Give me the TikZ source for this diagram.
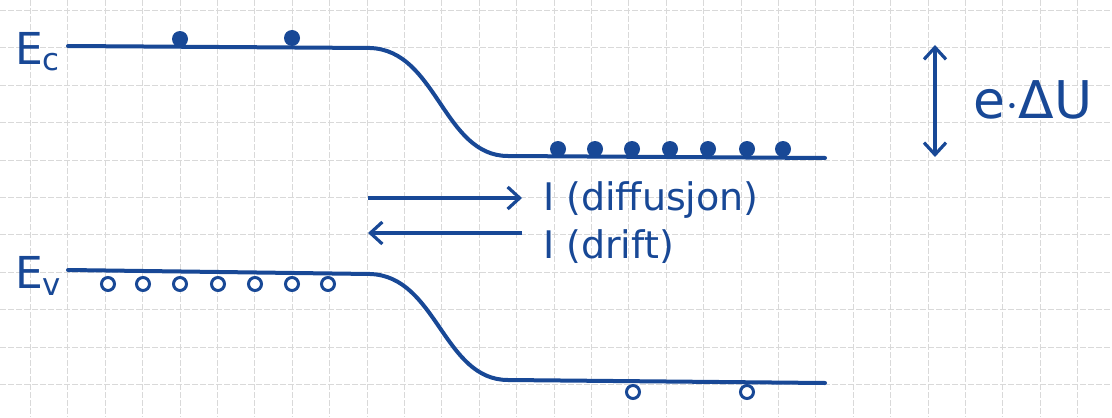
\documentclass[tikz,border=0pt]{standalone}
\usepackage{fontspec}
\setsansfont{DejaVu Sans}
\usetikzlibrary{arrows.meta}

\definecolor{ink}{RGB}{24,72,150}

\begin{document}
\begin{tikzpicture}[
  x=0.5pt,
  y=-0.5pt,
  font=\sffamily,
  >={Straight Barb[length=6pt,width=11pt,line width=1.6pt]},
  band/.style={
    draw=ink,
    line width=2pt,
    line cap=round
  },
  elec/.style={
    circle,
    fill=ink,
    inner sep=0pt,
    minimum size=8pt
  },
  hole/.style={
    circle,
    draw=ink,
    line width=1.5pt,
    fill=white,
    inner sep=0pt,
    minimum size=6.5pt
  },
  arr/.style={
    draw=ink,
    line width=1.6pt,
    ->
  },
  lbl/.style={
    text=ink,
    anchor=west,
    font=\sffamily\fontsize{19}{22}\selectfont
  },
  gridline/.style={
    gray!30,
    line width=0.5pt,
    dash pattern=on 3pt off 1pt
  }
]

\useasboundingbox (0,0) rectangle (1112,417);
\fill[white] (0,0) rectangle (1112,417);

% =========================================================
% RUTEARK
% =========================================================

\foreach \gx in {0,...,29} {
  \draw[gridline] (30.5+37.4*\gx,0) -- (30.5+37.4*\gx,417);
}
\foreach \gy in {0,...,10} {
  \draw[gridline] (0,10.5+37.4*\gy) -- (1112,10.5+37.4*\gy);
}

% =========================================================
% BÅNDKANTER
% =========================================================

\draw[band]
  (68,46) -- (370,48)
  .. controls (437,50) and (443,156) .. (508,156)
  -- (825,158);

\draw[band]
  (68,270) -- (370,274)
  .. controls (437,276) and (443,380) .. (508,380)
  -- (825,383);

\node[text=ink, anchor=west, font=\sffamily\fontsize{22}{26}\selectfont]
  (Ec) at (8,52) {E\textsubscript{c}};

\node[text=ink, anchor=west, font=\sffamily\fontsize{22}{26}\selectfont]
  (Ev) at (8,276) {E\textsubscript{v}};

% =========================================================
% ELEKTRONER OG HULL
% =========================================================

\node[elec] (e1) at (180,39) {};
\node[elec] (e2) at (292,38) {};

\foreach \ex [count=\i] in {558,595,632,670,708,747,783} {
  \node[elec] (n\i) at (\ex,149) {};
}

\foreach \hx [count=\i] in {108,143,180,218,255,292,328} {
  \node[hole] (p\i) at (\hx,284) {};
}

\node[hole] (q1) at (633,392) {};
\node[hole] (q2) at (747,392) {};

% =========================================================
% STRØMMER
% =========================================================

\coordinate (dfa) at (368,198);
\coordinate (dfb) at (522,198);
\coordinate (dra) at (522,233);
\coordinate (drb) at (368,233);

\draw[arr] (dfa) -- (dfb);
\draw[arr] (dra) -- (drb);

\node[lbl] (diff) at (536,200) {I (diffusjon)};
\node[lbl] (drift) at (536,247) {I (drift)};

% =========================================================
% POTENSIALSPRANG
% =========================================================

\coordinate (ut) at (935,45);
\coordinate (ub) at (935,157);

\draw[arr, <->] (ut) -- (ub);

\node[lbl, font=\sffamily\fontsize{26}{30}\selectfont]
  (dU) at (966,100) {e$\cdot$ΔU};

\end{tikzpicture}
\end{document}
